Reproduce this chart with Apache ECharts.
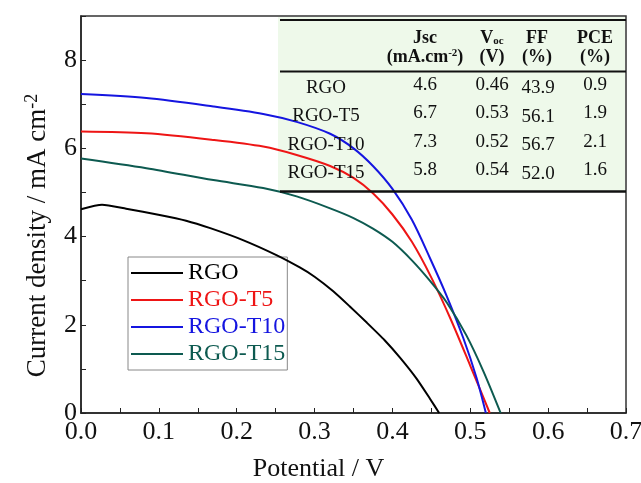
<!DOCTYPE html>
<html>
<head>
<meta charset="utf-8">
<script src="https://cdn.jsdelivr.net/npm/echarts@6/dist/echarts.min.js"></script>
<style>
  html, body { margin: 0; padding: 0; background: #fff; }
  #chart { width: 641px; height: 483px; }
</style>
</head>
<body>
<div id="chart"></div>
<script>
// J-V curves (potential in V, current density in mA cm-2)
const rgoV = [0, 0.027, 0.058, 0.101, 0.135, 0.166, 0.208, 0.251, 0.281, 0.300, 0.324, 0.345, 0.367, 0.390, 0.410, 0.431, 0.448, 0.460]
const rgoJ = [4.62, 4.72, 4.63, 4.49, 4.36, 4.19, 3.92, 3.58, 3.30, 3.09, 2.76, 2.42, 2.05, 1.65, 1.25, 0.78, 0.33, 0]

const t5V = [0, 0.084, 0.170, 0.234, 0.277, 0.320, 0.350, 0.375, 0.400, 0.425, 0.450, 0.475, 0.500, 0.525]
const t5J = [6.38, 6.34, 6.19, 6.04, 5.85, 5.60, 5.33, 4.98, 4.50, 3.88, 3.07, 2.12, 1.07, 0]

const t10V = [0, 0.084, 0.170, 0.234, 0.277, 0.320, 0.350, 0.375, 0.400, 0.425, 0.448, 0.470, 0.491, 0.508, 0.520]
const t10J = [7.23, 7.14, 6.95, 6.78, 6.60, 6.33, 6.00, 5.60, 5.08, 4.38, 3.52, 2.64, 1.70, 0.80, 0]

const t15V = [0, 0.084, 0.170, 0.234, 0.277, 0.320, 0.350, 0.375, 0.400, 0.425, 0.448, 0.470, 0.495, 0.517, 0.539]
const t15J = [5.77, 5.55, 5.28, 5.10, 4.91, 4.64, 4.42, 4.18, 3.88, 3.46, 3.00, 2.50, 1.76, 0.94, 0]

// inset table
const tableSamples = ['RGO', 'RGO-T5', 'RGO-T10', 'RGO-T15']
const tableJsc = ['4.6', '6.7', '7.3', '5.8']
const tableVoc = ['0.46', '0.53', '0.52', '0.54']
const tableFF = ['43.9', '56.1', '56.7', '52.0']
const tablePCE = ['0.9', '1.9', '2.1', '1.6']

const seriesNames = ['RGO', 'RGO-T5', 'RGO-T10', 'RGO-T15']
const seriesColors = ['#000000', '#ee1515', '#1515e0', '#0d5a50']

const serif = '"Liberation Serif", "DejaVu Serif", serif'
const zip = (v, j) => v.map((x, i) => [x, j[i]])
const curves = [zip(rgoV, rgoJ), zip(t5V, t5J), zip(t10V, t10J), zip(t15V, t15J)]

// table as graphic elements
const txt = (text, x, y, opts) => ({
  type: 'text', z: 10,
  style: Object.assign({
    text, x, y, fill: '#111', align: 'center', verticalAlign: 'middle',
    font: '19px ' + serif
  }, opts || {})
})
const hline = (y, w) => ({
  type: 'line', z: 10,
  shape: { x1: 280, y1: y, x2: 626, y2: y },
  style: { stroke: '#111', lineWidth: w }
})

const tableGraphics = [
  { type: 'rect', z: 1, shape: { x: 278, y: 17, width: 347, height: 175 }, style: { fill: '#eef9ea' } },
  hline(20, 2), hline(71.5, 2), hline(191.5, 2.5),
  txt('Jsc', 425, 38, { font: 'bold 18px ' + serif }),
  txt('(mA.cm{s|-2})', 425, 57, {
    font: 'bold 18px ' + serif,
    rich: { s: { font: 'bold 11px ' + serif, lineHeight: 12, verticalAlign: 'top' } }
  }),
  txt('V{s|oc}', 492, 38, {
    font: 'bold 18px ' + serif,
    rich: { s: { font: 'bold 11px ' + serif, lineHeight: 10, verticalAlign: 'bottom' } }
  }),
  txt('(V)', 492, 57, { font: 'bold 18px ' + serif }),
  txt('FF', 537, 38, { font: 'bold 18px ' + serif }),
  txt('(%)', 537, 57, { font: 'bold 18px ' + serif }),
  txt('PCE', 595, 38, { font: 'bold 18px ' + serif }),
  txt('(%)', 595, 57, { font: 'bold 18px ' + serif })
]
tableSamples.forEach((s, i) => {
  const y = 85 + 28.4 * i
  tableGraphics.push(
    txt(s, 326, y + 3),
    txt(tableJsc[i], 425, y),
    txt(tableVoc[i], 492, y),
    txt(tableFF[i], 538, y + 3.5),
    txt(tablePCE[i], 595, y)
  )
})

const chart = echarts.init(document.getElementById('chart'))
chart.setOption({
  animation: false,
  backgroundColor: '#fff',
  textStyle: { fontFamily: serif },
  grid: {
    left: 81, right: 15, top: 16, bottom: 70,
    outerBoundsMode: 'none',
    show: true, borderColor: '#333', borderWidth: 1.5
  },
  legend: {
    orient: 'vertical',
    left: 128, top: 257,
    padding: [4, 2, 4, 3],
    itemGap: 3,
    icon: 'rect',
    itemWidth: 52, itemHeight: 2,
    borderColor: '#888', borderWidth: 1,
    backgroundColor: '#fff',
    textStyle: { fontSize: 24, fontFamily: serif },
    data: seriesNames.map((n, i) => ({ name: n, textStyle: { color: seriesColors[i] } }))
  },
  xAxis: {
    type: 'value', min: 0, max: 0.7, interval: 0.05,
    name: 'Potential / V', nameLocation: 'middle', nameGap: 43,
    nameTextStyle: { fontSize: 26, color: '#111', padding: [0, 70, 0, 0] },
    axisLine: { lineStyle: { color: '#222', width: 1.5 } },
    axisTick: { inside: true, length: 5, lineStyle: { color: '#222' } },
    axisLabel: {
      fontSize: 26, color: '#111', margin: 6,
      formatter: v => Math.abs(v * 10 - Math.round(v * 10)) < 1e-6 ? v.toFixed(1) : ''
    },
    splitLine: { show: false }
  },
  yAxis: {
    type: 'value', min: 0, max: 9, interval: 1,
    name: '{a|Current density / mA cm}{s|-2}', nameLocation: 'middle', nameGap: 28,
    nameTextStyle: {
      color: '#111', padding: [0, 42, 0, 0],
      rich: {
        a: { fontSize: 27, lineHeight: 30, fontFamily: serif, color: '#111' },
        s: { fontSize: 18, lineHeight: 16, verticalAlign: 'top', fontFamily: serif, color: '#111' }
      }
    },
    axisLine: { show: true, lineStyle: { color: '#222', width: 1.5 } },
    axisTick: { show: true, inside: true, length: 5, lineStyle: { color: '#222' } },
    axisLabel: {
      fontSize: 26, color: '#111', margin: 4,
      formatter: v => (v % 2 === 0 && v < 9) ? String(v) : ''
    },
    splitLine: { show: false }
  },
  graphic: tableGraphics,
  series: seriesNames.map((n, i) => ({
    name: n,
    type: 'line',
    data: curves[i],
    symbol: 'none',
    smooth: i === 0 ? 0.2 : 0.3,
    z: 5,
    lineStyle: { color: seriesColors[i], width: 2 },
    itemStyle: { color: seriesColors[i] }
  }))
})
</script>
</body>
</html>
